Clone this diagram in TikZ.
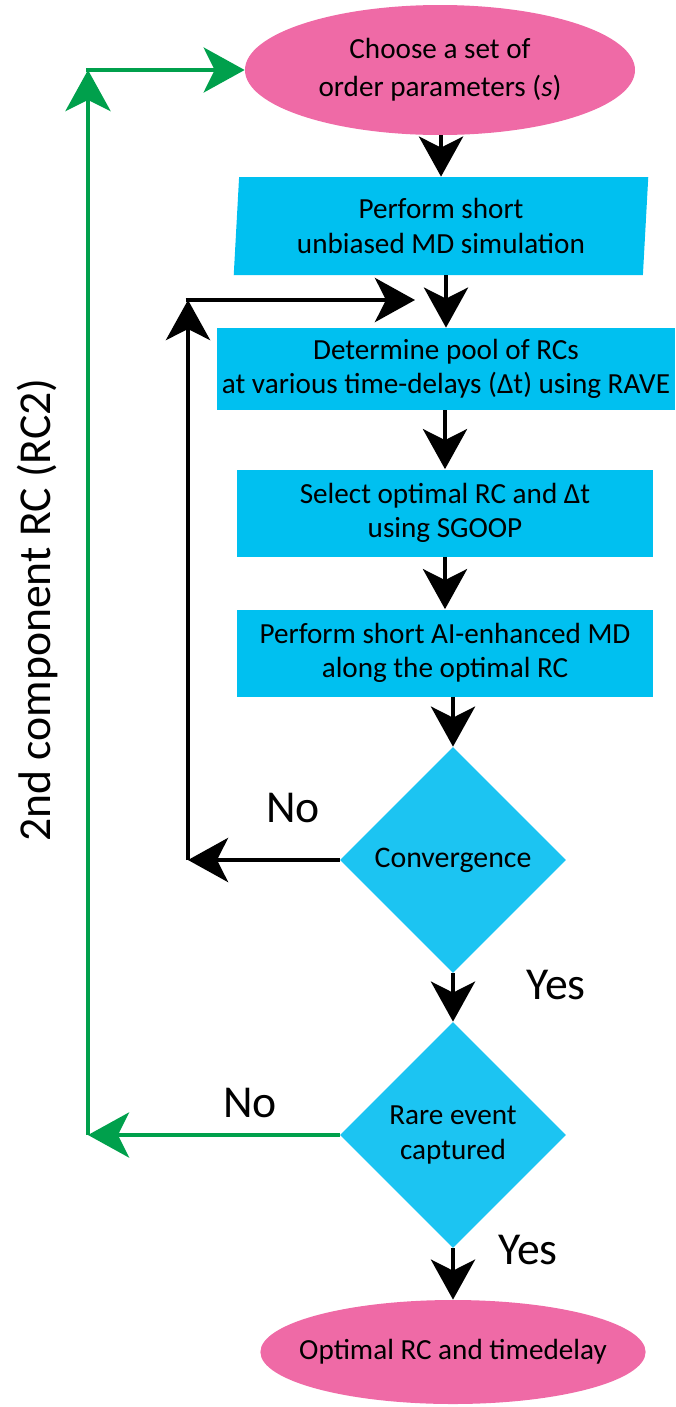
\documentclass[tikz,border=0pt]{standalone}
\usepackage{fontspec}
\setmainfont{Carlito}
\usetikzlibrary{shapes.geometric,arrows.meta}
\definecolor{pinkop}{RGB}{239,106,166}
\definecolor{cyanbox}{RGB}{0,192,240}
\definecolor{cyandia}{RGB}{28,196,242}
\definecolor{greenrc}{RGB}{0,160,76}
\begin{document}
\begin{tikzpicture}[
  font=\fontsize{16.6}{19.5}\selectfont,
  oval/.style={ellipse,fill=pinkop,align=center,inner sep=0pt},
  proc/.style={rectangle,fill=cyanbox,align=center,inner sep=0pt},
  decide/.style={diamond,fill=cyandia,align=center,inner sep=0pt,minimum width=4.52cm,minimum height=4.52cm},
  flow/.style={line width=2.8pt,-{Stealth[length=0.8cm,width=0.88cm,inset=0.22cm]}},
  back/.style={flow,draw=greenrc,line width=2.3pt,-{Stealth[length=0.82cm,width=0.9cm,inset=0.22cm,fill=greenrc]}},
  big/.style={font=\fontsize{26}{30}\selectfont}]
  \useasboundingbox (0,0) rectangle (13.5,-28.14);
  \node[oval,minimum width=7.8cm,minimum height=2.6cm,font=\fontsize{16.6}{21.5}\selectfont] (start) at (8.8,-1.4) {Choose a set of\\order parameters (\textit{s})};
  \node[trapezium,trapezium left angle=86,trapezium right angle=94,trapezium stretches=true,fill=cyanbox,align=center,inner sep=0pt,minimum width=8.3cm,minimum height=1.96cm] (unbiased) at (8.82,-4.52) {Perform short\\unbiased MD simulation};
  \node[proc,minimum width=9.16cm,minimum height=1.64cm] (pool) at (8.92,-7.38) {Determine pool of RCs\\at various time-delays (Δt) using RAVE};
  \node[proc,minimum width=8.32cm,minimum height=1.74cm] (sgoop) at (8.9,-10.26) {Select optimal RC and Δt\\using SGOOP};
  \node[proc,minimum width=8.32cm,minimum height=1.74cm] (aimd) at (8.9,-13.06) {Perform short AI-enhanced MD\\along the optimal RC};
  \node[decide,font=\fontsize{17}{19.5}\selectfont] (conv) at (9.06,-17.2) {Convergence};
  \node[decide] (rare) at (9.06,-22.7) {Rare event\\captured};
  \node[oval,inner xsep=-10pt,minimum width=7.7cm,minimum height=2.08cm] (final) at (9.06,-27.04) {Optimal RC and timedelay};
  \coordinate (loopbot) at (3.76,-17.2);
  \coordinate (looptop) at (3.76,-6.0);
  \coordinate (loopend) at (8.3,-6.0);
  \coordinate (rcbot) at (1.76,-22.7);
  \coordinate (rctop) at (1.76,-1.4);
  \draw[flow] (unbiased.north |- start.south) -- (unbiased.north);
  \draw[flow] (pool.north |- unbiased.south) -- (pool.north);
  \draw[flow] (sgoop.north |- pool.south) -- (sgoop.north);
  \draw[flow] (aimd.north |- sgoop.south) -- (aimd.north);
  \draw[flow] (conv.north |- aimd.south) -- (conv.north);
  \draw[flow] (conv.south) -- (rare.north);
  \draw[flow] (rare.south) -- (final.north);
  \draw[flow] (conv.west) -- (loopbot);
  \draw[flow] (loopbot) -- (looptop);
  \draw[flow] ([xshift=-1.4pt]looptop) -- (loopend);
  \draw[back] (rare.west) -- (rcbot);
  \draw[back] (rcbot) -- (rctop);
  \draw[back] ([xshift=-1.15pt]rctop) -- (start.west);
  \node[big] (noconv) at (5.86,-16.16) {No};
  \node[big] (yesconv) at (11.12,-19.7) {Yes};
  \node[big] (norare) at (5.0,-22.06) {No};
  \node[big] (yesrare) at (10.56,-25.0) {Yes};
  \node[big,rotate=90] (rclabel) at (0.74,-12.2) {2nd component RC (RC2)};
\end{tikzpicture}
\end{document}
